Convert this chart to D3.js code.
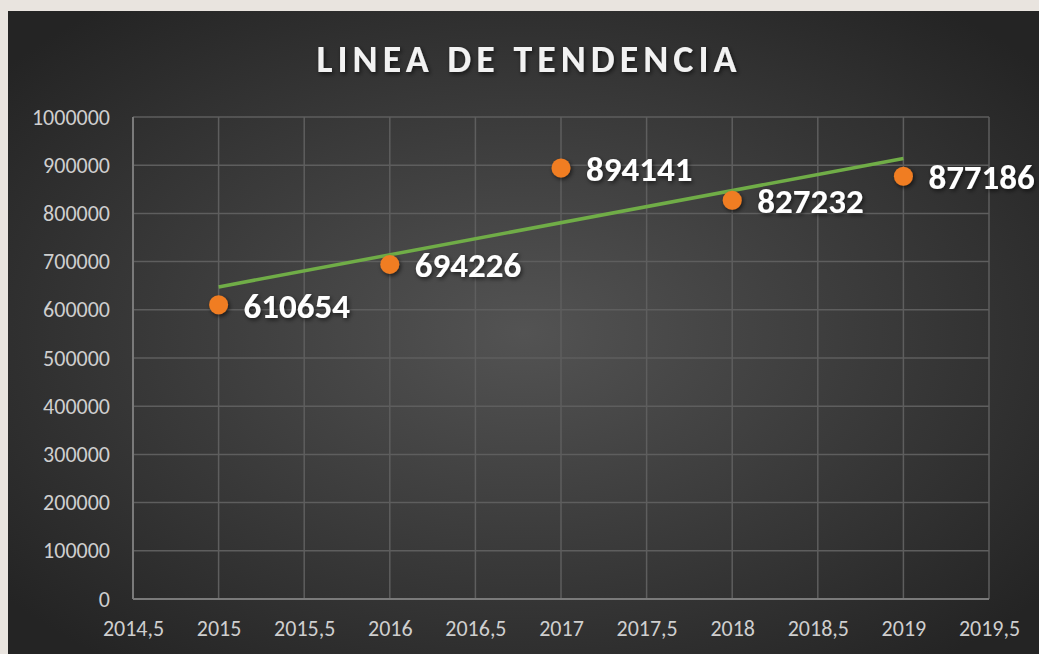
<!DOCTYPE html>
<html>
<head>
<meta charset="utf-8">
<script src="https://cdn.jsdelivr.net/npm/d3@7"></script>
<style>
  html, body { margin: 0; padding: 0; background: #e9e4df; }
  #chart { width: 1039px; height: 654px; }
  text { font-family: Carlito, Lato, "Open Sans", sans-serif; }
</style>
</head>
<body>
<div id="chart"></div>
<script>
const years = [2015, 2016, 2017, 2018, 2019];
const values = [610654, 694226, 894141, 827232, 877186];
const xTicks = [2014.5, 2015, 2015.5, 2016, 2016.5, 2017, 2017.5, 2018, 2018.5, 2019, 2019.5];
const yTicks = [0, 100000, 200000, 300000, 400000, 500000, 600000, 700000, 800000, 900000, 1000000];

const W = 1039, H = 654;
const margin = {top: 117, right: 50, bottom: 55, left: 133};
const width = W - margin.left - margin.right,
      height = H - margin.top - margin.bottom;

const svg = d3.select('#chart').append('svg')
    .attr('width', W)
    .attr('height', H);

const defs = svg.append('defs');
const grad = defs.append('radialGradient')
    .attr('id', 'bg')
    .attr('cx', '50%').attr('cy', '50%').attr('r', '65%');
grad.append('stop').attr('offset', '0%').attr('stop-color', '#535353');
grad.append('stop').attr('offset', '100%').attr('stop-color', '#242424');

const shadow = defs.append('filter').attr('id', 'shadow')
    .attr('x', '-50%').attr('y', '-50%').attr('width', '200%').attr('height', '200%');
shadow.append('feDropShadow')
    .attr('dx', 1.5).attr('dy', 2).attr('stdDeviation', 2)
    .attr('flood-color', '#000').attr('flood-opacity', 0.6);

// chart panel
svg.append('rect')
    .attr('x', 8).attr('y', 11)
    .attr('width', W - 8).attr('height', H - 11)
    .attr('fill', 'url(#bg)');

svg.append('text')
    .attr('x', 529).attr('y', 72)
    .attr('text-anchor', 'middle')
    .attr('fill', '#f2f2f2')
    .attr('font-size', 38)
    .attr('font-weight', 'bold')
    .attr('letter-spacing', 5)
    .attr('filter', 'url(#shadow)')
    .text('LINEA DE TENDENCIA');

const g = svg.append('g')
    .attr('transform', `translate(${margin.left},${margin.top})`);

const x = d3.scaleLinear().domain([2014.5, 2019.5]).range([0, width]);
const y = d3.scaleLinear().domain([0, 1000000]).range([height, 0]);

// gridlines
g.append('g').selectAll('line')
  .data(yTicks)
  .enter().append('line')
    .attr('x1', 0).attr('x2', width)
    .attr('y1', d => y(d)).attr('y2', d => y(d))
    .attr('stroke', '#5e5e5e').attr('stroke-width', 1.5);
g.append('g').selectAll('line')
  .data(xTicks)
  .enter().append('line')
    .attr('y1', 0).attr('y2', height)
    .attr('x1', d => x(d)).attr('x2', d => x(d))
    .attr('stroke', '#5e5e5e').attr('stroke-width', 1.5);

// axes lines
g.append('line')
    .attr('x1', 0).attr('x2', 0).attr('y1', 0).attr('y2', height)
    .attr('stroke', '#7a7a7a').attr('stroke-width', 2);
g.append('line')
    .attr('x1', 0).attr('x2', width).attr('y1', height).attr('y2', height)
    .attr('stroke', '#7a7a7a').attr('stroke-width', 2);

// axes via d3
const yAxis = g.append('g')
    .call(d3.axisLeft(y).tickValues(yTicks).tickSize(0).tickPadding(23).tickFormat(d3.format('d')));
const xAxis = g.append('g')
    .attr('transform', `translate(0,${height})`)
    .call(d3.axisBottom(x).tickValues(xTicks).tickSize(0).tickPadding(21)
      .tickFormat(d => String(d).replace('.', ',')));
[yAxis, xAxis].forEach(a => {
  a.select('.domain').remove();
  a.selectAll('text')
      .attr('fill', '#cfcfcf')
      .attr('font-size', 22)
      .style('font-family', 'Carlito, Lato, "Open Sans", sans-serif');
});

// linear trend line
const data = years.map((yr, i) => ({year: yr, value: values[i]}));
const mx = d3.mean(data, d => d.year), my = d3.mean(data, d => d.value);
const slope = d3.sum(data, d => (d.year - mx) * (d.value - my)) / d3.sum(data, d => (d.year - mx) ** 2);
const trend = d => my + slope * (d - mx);
const x0 = d3.min(years), x1 = d3.max(years);

g.append('line')
    .attr('x1', x(x0)).attr('y1', y(trend(x0)))
    .attr('x2', x(x1)).attr('y2', y(trend(x1)))
    .attr('stroke', '#70ad47').attr('stroke-width', 3.5);

// points
g.append('g').selectAll('circle')
  .data(data)
  .enter().append('circle')
    .attr('cx', d => x(d.year))
    .attr('cy', d => y(d.value))
    .attr('r', 9.5)
    .attr('fill', '#f07d22')
    .attr('filter', 'url(#shadow)');

// data labels
g.append('g').selectAll('text')
  .data(data)
  .enter().append('text')
    .attr('x', d => x(d.year) + 25)
    .attr('y', d => y(d.value) + 13)
    .attr('fill', '#ffffff')
    .attr('font-size', 35)
    .attr('font-weight', 'bold')
    .attr('filter', 'url(#shadow)')
    .text(d => d.value);
</script>
</body>
</html>
